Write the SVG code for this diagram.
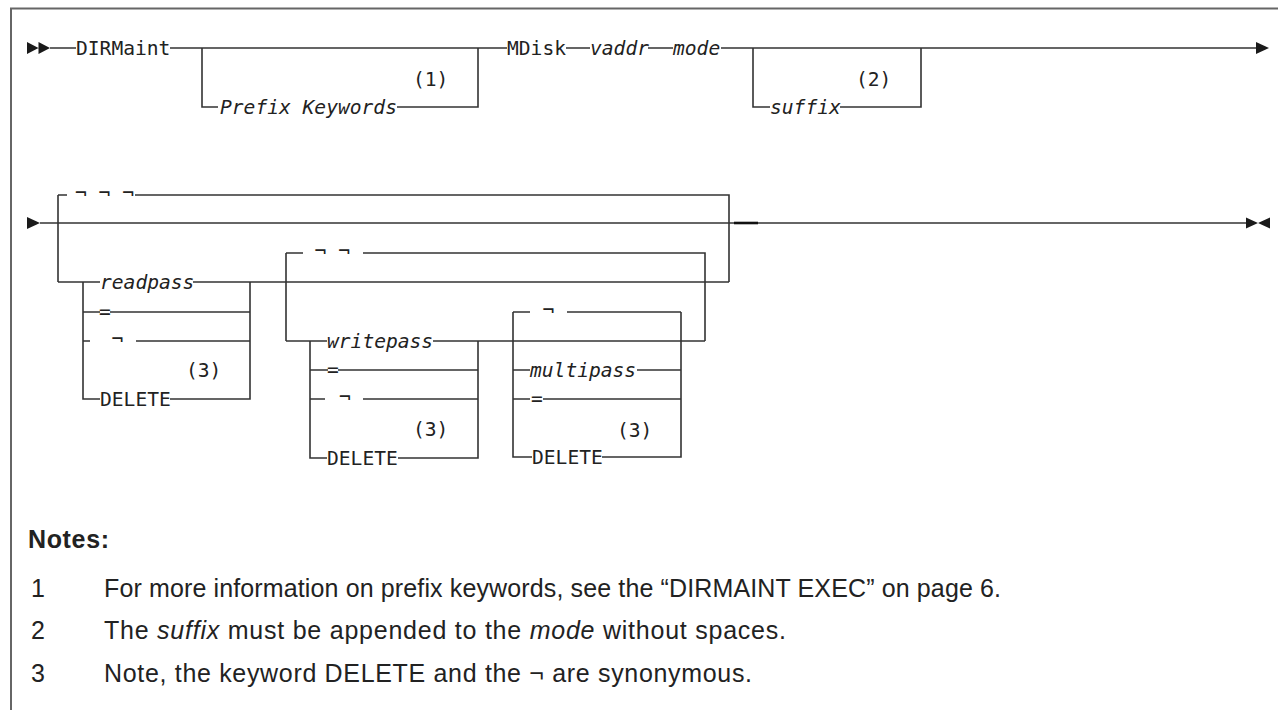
<svg xmlns="http://www.w3.org/2000/svg" width="1278" height="710" viewBox="0 0 1278 710">
<defs>
<style>
.ln{fill:none;stroke:#333;stroke-width:1.6}
.fr{fill:none;stroke:#666;stroke-width:2}
.m{font-family:"DejaVu Sans Mono","Liberation Mono",monospace;font-size:19.6px;fill:#222}
.i{font-style:italic}
.arr{fill:#1a1a1a}
.n{font-family:"Liberation Sans",Arial,sans-serif;font-size:25px;fill:#222}
.nb{font-weight:bold}
</style>
</defs>
<rect width="1278" height="710" fill="#fff"/>
<g id="frame"><path class="fr" d="M11,710 V8.5 H1278"/></g>
<g id="connectors">
<path class="ln" d="M50,48 H76 M170,48 H507 M202,48 V107 H218 M397,107 H478 V48 M566,48 H590 M648,48 H673 M721,48 H1257 M753,48 V107 H770 M840,107 H921 V48"/>
<path class="ln" d="M40,223 H1246"/>
<path d="M734,223 H758" stroke="#111" stroke-width="2.6"/>
<path class="ln" d="M58,195 V282 M58,195 H67 M135,195 H729 V282 M58,282 H100 M193,282 H729"/>
<path class="ln" d="M83,282 V399 H100 M170,399 H250 V282 M83,312 H100 M110,312 H250 M83,341 H90 M136,341 H250"/>
<path class="ln" d="M286,253 V341 M286,253 H303 M363,253 H705 V341 M286,341 H327 M433,341 H705"/>
<path class="ln" d="M310,341 V458 H327 M398,458 H478 V341 M310,370 H328 M338,370 H478 M310,399 H325 M363,399 H478"/>
<path class="ln" d="M513,312 V457 H532 M602,457 H681 V312 M513,312 H530 M567,312 H681 M513,370 H530 M637,370 H681 M513,399 H530 M543,399 H681"/>
<path class="arr" d="M27,42 L38.5,48 L27,54 Z M38.5,42 L50,48 L38.5,54 Z"/>
<path class="arr" d="M1256,42 L1269,48 L1256,54 Z"/>
<path class="arr" d="M27,217 L40,223 L27,229 Z"/>
<path class="arr" d="M1246,217.5 L1258,223 L1246,228.5 Z M1270,217.5 L1258,223 L1270,228.5 Z"/>
</g>
<g id="n-dirmaint"><text class="m" x="76" y="55">DIRMaint</text></g>
<g id="n-prefix"><text class="m i" x="220" y="114">Prefix Keywords</text><text class="m" x="413" y="86">(1)</text></g>
<g id="n-mdisk"><text class="m" x="507" y="55">MDisk</text></g>
<g id="n-vaddr"><text class="m i" x="590" y="55">vaddr</text></g>
<g id="n-mode"><text class="m i" x="673" y="55">mode</text></g>
<g id="n-suffix"><text class="m i" x="770" y="114">suffix</text><text class="m" x="856" y="86">(2)</text></g>
<g id="n-default1"><text class="m" x="75" y="200">¬ ¬ ¬</text></g>
<g id="n-readpass"><text class="m i" x="100" y="289">readpass</text><text class="m" x="99" y="318">=</text><text class="m" x="111.6" y="346">¬</text><text class="m" x="186" y="377">(3)</text><text class="m" x="100" y="406">DELETE</text></g>
<g id="n-default2"><text class="m" x="314.6" y="258">¬ ¬</text></g>
<g id="n-writepass"><text class="m i" x="327" y="348">writepass</text><text class="m" x="327" y="376">=</text><text class="m" x="339" y="404">¬</text><text class="m" x="413" y="436">(3)</text><text class="m" x="327" y="465">DELETE</text></g>
<g id="n-default3"><text class="m" x="542.6" y="317">¬</text></g>
<g id="n-multipass"><text class="m i" x="530" y="377">multipass</text><text class="m" x="531" y="405">=</text><text class="m" x="617" y="437">(3)</text><text class="m" x="532" y="464">DELETE</text></g>
<g id="notes">
<text class="n nb" x="28" y="548" textLength="81">Notes:</text>
<text class="n" x="31" y="597">1</text><text class="n" x="104" y="597" textLength="897">For more information on prefix keywords, see the “DIRMAINT EXEC” on page 6.</text>
<text class="n" x="31" y="639">2</text><text class="n" x="104" y="639" textLength="682">The <tspan font-style="italic">suffix</tspan> must be appended to the <tspan font-style="italic">mode</tspan> without spaces.</text>
<text class="n" x="31" y="682">3</text><text class="n" x="104" y="682" textLength="648">Note, the keyword DELETE and the ¬ are synonymous.</text>
</g>
</svg>
